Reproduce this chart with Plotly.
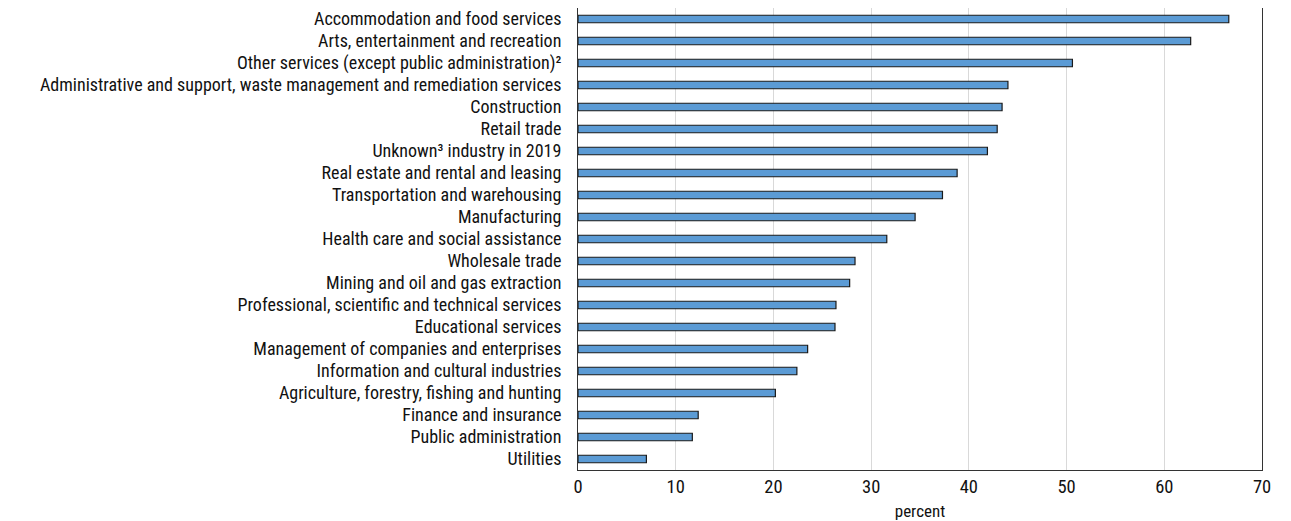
import plotly.graph_objects as go

categories = [
    "Accommodation and food services",
    "Arts, entertainment and recreation",
    "Other services (except public administration)²",
    "Administrative and support, waste management and remediation services",
    "Construction",
    "Retail trade",
    "Unknown³ industry in 2019",
    "Real estate and rental and leasing",
    "Transportation and warehousing",
    "Manufacturing",
    "Health care and social assistance",
    "Wholesale trade",
    "Mining and oil and gas extraction",
    "Professional, scientific and technical services",
    "Educational services",
    "Management of companies and enterprises",
    "Information and cultural industries",
    "Agriculture, forestry, fishing and hunting",
    "Finance and insurance",
    "Public administration",
    "Utilities",
]
values = [66.6, 62.7, 50.6, 44.0, 43.4, 42.9, 41.9, 38.8, 37.3, 34.5, 31.6,
          28.35, 27.8, 26.4, 26.3, 23.5, 22.4, 20.2, 12.3, 11.7, 7.0]
x_ticks = [0, 10, 20, 30, 40, 50, 60, 70]

FONT = "Liberation Sans Narrow, Arial Narrow, Roboto Condensed, sans-serif"

fig = go.Figure(go.Bar(
    x=values, y=categories, orientation="h", width=0.34,
    marker=dict(color="#5B9BD5", line=dict(color="#1a1a1a", width=1.2)),
))
fig.update_layout(
    width=1283, height=513,
    margin=dict(l=570, r=29, t=0, b=51),
    paper_bgcolor="white", plot_bgcolor="white",
    font=dict(family=FONT, size=18, color="#111"),
    showlegend=False,
)
fig.update_xaxes(
    range=[0, 70], tickvals=x_ticks, ticktext=[str(v) for v in x_ticks],
    showgrid=True, gridcolor="#d9d9d9", gridwidth=1,
    showline=True, linecolor="#333", linewidth=1, mirror=True,
    ticks="", zeroline=False, automargin=False,
    title=dict(text="percent", standoff=9, font=dict(size=17)),
    tickfont=dict(size=18.5),
)
fig.update_yaxes(
    categoryorder="array", categoryarray=categories, autorange="reversed",
    showline=True, linecolor="#333", linewidth=1, mirror=True,
    ticks="", showgrid=False, ticklabelstandoff=12, automargin=False,
    tickfont=dict(size=18),
)
fig.write_html("out.html")
